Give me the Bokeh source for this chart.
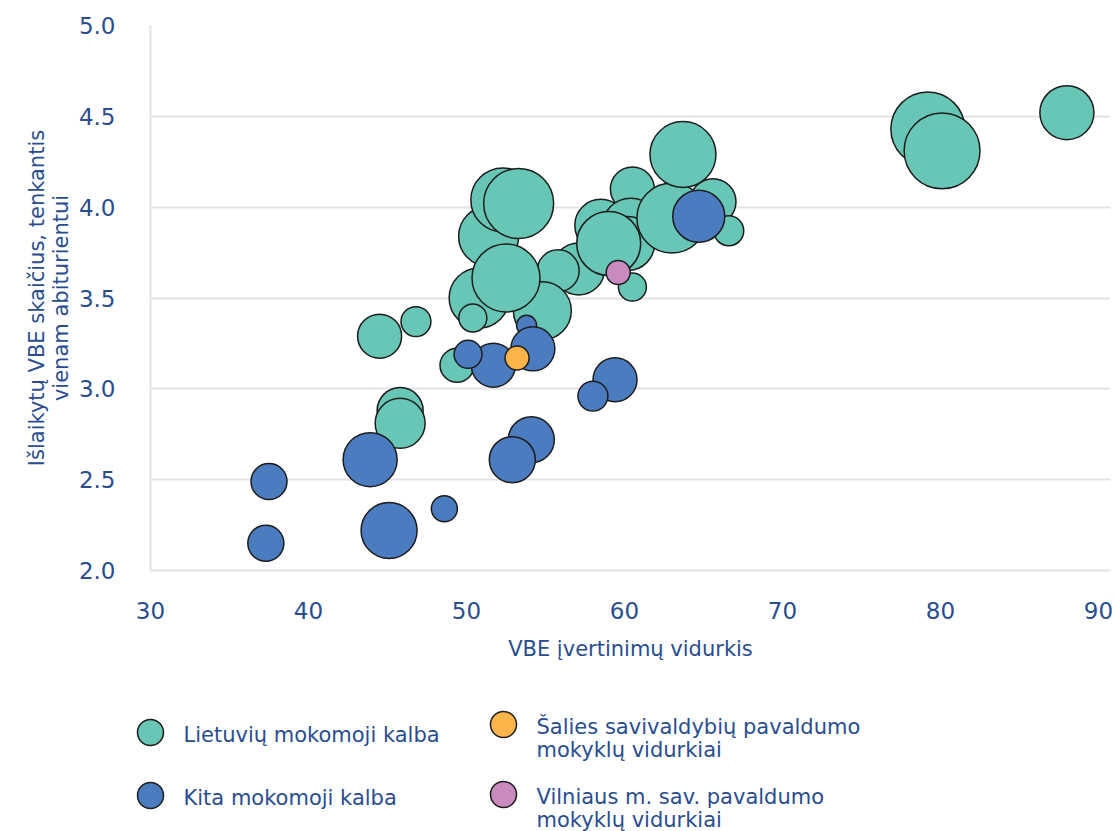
import numpy as np
from bokeh.plotting import figure
from bokeh.models import Range1d, FixedTicker, PrintfTickFormatter, ColumnDataSource
from bokeh.core.properties import value
from bokeh.embed import file_html
from bokeh.resources import INLINE

# ---------------- data ----------------
# Lietuvių mokomoji kalba
lt_x = [58.5, 60.5, 65.6, 66.6, 60.4, 60.2, 57.1, 55.8, 59.0, 63.0, 63.7, 60.5,
        51.4, 50.8, 54.8, 52.5, 50.4, 52.3, 53.3, 46.8, 44.5, 49.4, 45.8, 45.8,
        79.2, 80.1, 88.0]
lt_y = [3.90, 4.10, 4.03, 3.87, 3.89, 3.80, 3.66, 3.65, 3.80, 3.94, 4.29, 3.56,
        3.84, 3.50, 3.43, 3.61, 3.39, 4.04, 4.02, 3.37, 3.29, 3.13, 2.88, 2.81,
        4.43, 4.31, 4.52]
lt_n = [338, 242, 265, 112, 420, 365, 338, 220, 512, 612, 545, 98,
        450, 450, 420, 578, 98, 512, 612, 112, 242, 145, 265, 312,
        685, 720, 365]

# Kita mokomoji kalba
ot_x = [64.7, 53.8, 54.2, 51.7, 50.1, 59.4, 58.0, 43.9, 54.1, 52.9, 37.5, 37.3, 45.1, 48.6]
ot_y = [3.95, 3.35, 3.22, 3.13, 3.19, 3.05, 2.96, 2.61, 2.72, 2.61, 2.49, 2.15, 2.22, 2.34]
ot_n = [338, 50, 242, 242, 98, 242, 112, 365, 265, 265, 162, 162, 392, 85]

# Šalies savivaldybių pavaldumo mokyklų vidurkiai
sal_x = [53.2]
sal_y = [3.17]
sal_n = [72]

# Vilniaus m. sav. pavaldumo mokyklų vidurkiai
vln_x = [59.6]
vln_y = [3.64]
vln_n = [72]

x_ticks = [30, 40, 50, 60, 70, 80, 90]
y_ticks = [2.0, 2.5, 3.0, 3.5, 4.0, 4.5, 5.0]

series_names = ["Lietuvių mokomoji kalba",
                "Kita mokomoji kalba",
                "Šalies savivaldybių pavaldumo\nmokyklų vidurkiai",
                "Vilniaus m. sav. pavaldumo\nmokyklų vidurkiai"]

# ---------------- style ----------------
TXT = "#2a4d8f"
FONT = "DejaVu Sans"
GRID = "#e2e2e8"
EDGE = "#1c1c1c"
C_LT = "#67c6b5"
C_OT = "#4b7cbf"
C_SAL = "#fdb54b"
C_VLN = "#c98bbd"
colors = [C_LT, C_OT, C_SAL, C_VLN]


def diam(n):
    return [2 * np.sqrt(2 * v) for v in n]


p = figure(width=1115, height=680, x_range=Range1d(30, 90.76), y_range=Range1d(2.0, 5.0),
           output_backend="svg", toolbar_location=None,
           min_border_left=150, min_border_right=5, min_border_top=25, min_border_bottom=110)
p.outline_line_color = None
p.xgrid.visible = False
p.ygrid.grid_line_color = GRID
p.ygrid.grid_line_width = 2
p.ygrid.ticker = FixedTicker(ticks=y_ticks)
p.xaxis.ticker = FixedTicker(ticks=x_ticks)
p.yaxis.ticker = FixedTicker(ticks=y_ticks)
p.yaxis.formatter = PrintfTickFormatter(format="%.1f")

for ax in (p.xaxis, p.yaxis):
    ax.axis_line_color = GRID
    ax.axis_line_width = 2
    ax.major_tick_line_color = None
    ax.minor_tick_line_color = None
    ax.major_label_text_font = FONT
    ax.major_label_text_font_size = "23px"
    ax.major_label_text_color = TXT
    ax.axis_label_text_font = FONT
    ax.axis_label_text_font_size = "21px"
    ax.axis_label_text_font_style = "normal"
    ax.axis_label_text_color = TXT

p.xaxis.major_label_standoff = 25
p.yaxis.major_label_standoff = 29
p.xaxis.axis_label = "VBE įvertinimų vidurkis"
p.xaxis.axis_label_standoff = 15
p.yaxis.axis_label = "Išlaikytų VBE skaičius, tenkantis\nvienam abiturientui"
p.yaxis.axis_label_standoff = 3
p.yaxis.axis_label_text_line_height = 1.0

for xs, ys, ns, col in [(lt_x, lt_y, lt_n, C_LT), (ot_x, ot_y, ot_n, C_OT),
                        (sal_x, sal_y, sal_n, C_SAL), (vln_x, vln_y, vln_n, C_VLN)]:
    src = ColumnDataSource(dict(x=xs, y=ys, s=diam(ns)))
    p.scatter("x", "y", size="s", source=src, fill_color=col, line_color=EDGE,
              line_width=1.5, marker="circle")

# ---------------- legend panel (screen-pixel coordinates) ----------------
LW, LH = 1115, 151
leg = figure(width=LW, height=LH, x_range=Range1d(0, LW), y_range=Range1d(LH, 0),
             x_axis_type=None, y_axis_type=None,
             output_backend="svg", toolbar_location=None,
             min_border_left=0, min_border_right=0, min_border_top=0, min_border_bottom=0)
leg.outline_line_color = None
leg.grid.visible = False

key_x = [150, 150, 503, 503]
key_y = [52, 115, 44, 114]
leg.scatter(key_x, key_y, size=26, fill_color=colors, line_color=EDGE,
            line_width=1.5, marker="circle")
tx, ty, tt = [], [], []
for kx, ky, name in zip(key_x, key_y, series_names):
    for i, line in enumerate(name.split("\n")):
        tx.append(kx + 33)
        ty.append(ky + 2 + 23 * i)
        tt.append(line)
leg.text(tx, ty, text=tt, text_font=value(FONT), text_font_size="21px", text_color=TXT,
         text_baseline="middle", text_align="left")

open("out.html", "w").write(file_html([p, leg], INLINE))
